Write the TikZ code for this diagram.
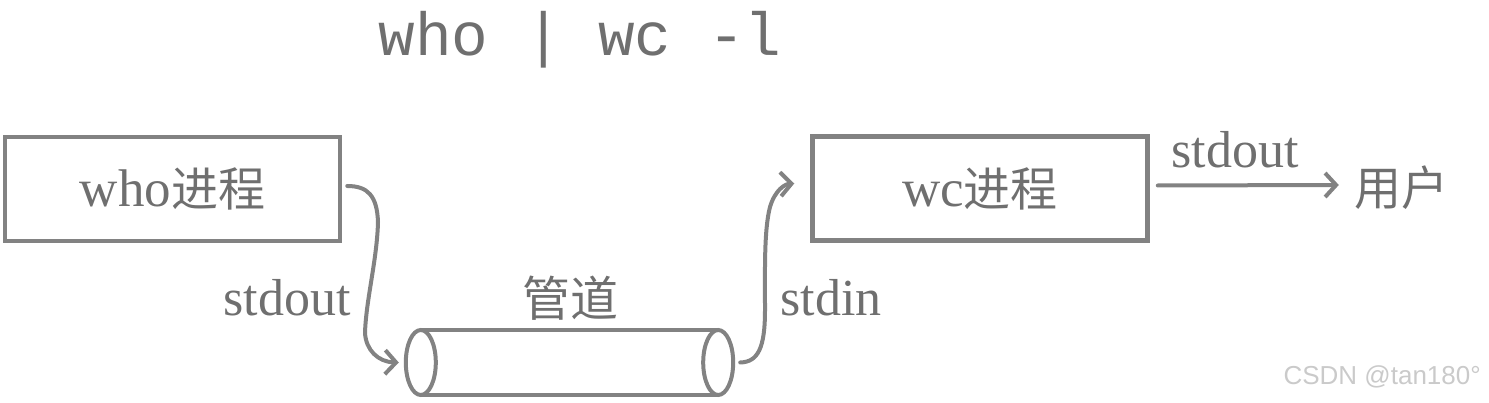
\documentclass[tikz,border=0pt]{standalone}
\usepackage{fontspec}
\setmainfont{Liberation Serif}
\setmonofont{Liberation Mono}
\newfontfamily\cjk{Noto Sans CJK SC}
\newfontfamily\wmfont{Liberation Sans}
\usetikzlibrary{arrows.meta}
\definecolor{linegray}{HTML}{828282}
\definecolor{textgray}{HTML}{6F6F6F}
\definecolor{wmgray}{HTML}{CACACA}
\begin{document}
\begin{tikzpicture}[x=1pt,y=-1pt,
  proc/.style={draw=linegray, line width=4.5pt, minimum width=335pt, minimum height=104pt, inner sep=0pt, text=textgray, font=\fontsize{53}{53}\selectfont},
  lbl/.style={text=textgray, font=\fontsize{52}{52}\selectfont, inner sep=0pt},
  pipeline/.style={draw=linegray, line width=4pt},
  conn/.style={draw=linegray, line width=4pt, line cap=round, -{Straight Barb[length=11pt,width=24pt]}},
]
\useasboundingbox (0,0) rectangle (1489,403);
% command
\node[text=textgray, font=\ttfamily\fontsize{61}{61}\selectfont, inner sep=0pt] (cmd) at (580,40) {who | wc -l};
% process boxes
\node[proc] (who) at (172.5,189) {who{\cjk\fontsize{47}{47}\selectfont 进程}};
\node[proc] (wc) at (980,188.5) {wc{\cjk\fontsize{47}{47}\selectfont 进程}};
% pipe
\node[minimum width=327pt, minimum height=65pt, inner sep=0pt] (pipe) at (569.5,362.5) {};
\draw[pipeline] ([xshift=15pt]pipe.north west) -- ([xshift=-15pt]pipe.north east);
\draw[pipeline] ([xshift=15pt]pipe.south west) -- ([xshift=-15pt]pipe.south east);
\draw[pipeline] ([xshift=15pt]pipe.west) ellipse [x radius=15, y radius=32.5];
\draw[pipeline] ([xshift=-15pt]pipe.east) ellipse [x radius=15, y radius=32.5];
% labels
\node[lbl] (lout) at (287,298) {stdout};
\node[lbl, font=\cjk\fontsize{48}{48}\selectfont] (pipelbl) at (570,298) {管道};
\node[lbl] (lin) at (831,298) {stdin};
\node[lbl] (rout) at (1235,150) {stdout};
\node[lbl, font=\cjk\fontsize{47}{47}\selectfont] (user) at (1401,188) {用户};
% connectors
\draw[conn] ([xshift=5pt,yshift=3pt]who.east) .. controls (368,186) and (377,196) .. (378,222)
  .. controls (377,260) and (366,300) .. (365,333)
  .. controls (366,350) and (378,362) .. ([xshift=-7pt]pipe.west);
\draw[conn] ([xshift=7pt]pipe.east) .. controls (758,362) and (765,348) .. (765,310)
  .. controls (765,270) and (764,230) .. (770,207)
  .. controls (775,190) and (785,184) .. ([xshift=-16pt,yshift=5pt]wc.west);
\draw[conn] ([xshift=8pt,yshift=3pt]wc.east) -- ([xshift=-15pt,yshift=3pt]user.west);
% watermark
\node[text=wmgray, font=\wmfont\fontsize{26}{26}\selectfont, inner sep=0pt, anchor=east] (wm) at (1481,377) {CSDN @tan180°};
\end{tikzpicture}
\end{document}
